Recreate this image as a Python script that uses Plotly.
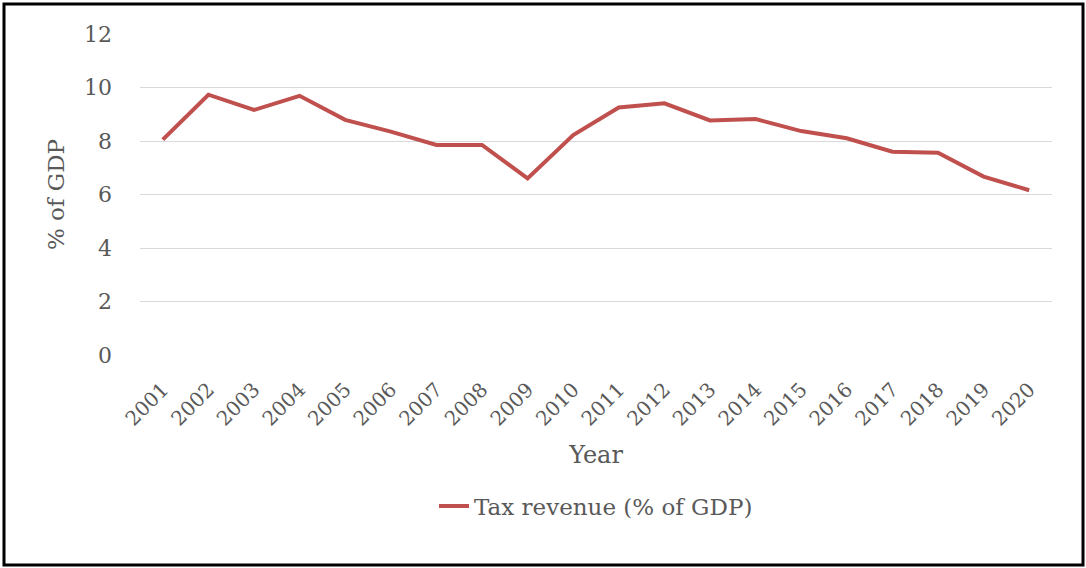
import plotly.graph_objects as go

# Tax revenue as a share of GDP, 2001-2020
years = [str(y) for y in range(2001, 2021)]
tax_revenue = [8.05, 9.73, 9.16, 9.69, 8.79, 8.35, 7.85, 7.85, 6.6, 8.22,
               9.25, 9.41, 8.77, 8.82, 8.37, 8.1, 7.6, 7.56, 6.67, 6.16]
y_ticks = [0, 2, 4, 6, 8, 10, 12]

FONT = "DejaVu Serif"
GREY = "#595959"

fig = go.Figure()
fig.add_trace(go.Scatter(
    x=years, y=tax_revenue, mode="lines",
    name="Tax revenue (% of GDP)",
    line=dict(color="#C0504D", width=4),
))

# plot area in pixels: x 140..1052, y 34..355
L, R, T, B = 140, 34, 34, 213
W, H = 1086, 568
pw, ph = W - L - R, H - T - B

def px(x):
    return (x - L) / pw

def py(y):
    return (H - B - y) / ph

fig.update_layout(
    width=W, height=H,
    margin=dict(l=L, r=R, t=T, b=B, autoexpand=False),
    paper_bgcolor="white", plot_bgcolor="white",
    font=dict(family=FONT, color=GREY, size=19),
    showlegend=True,
    legend=dict(orientation="h", x=0.5, xanchor="center",
                y=py(506), yanchor="middle",
                font=dict(size=23, color=GREY)),
    xaxis=dict(
        type="category", range=[-0.5, 19.5],
        tickangle=-45, showgrid=False, showline=False, ticks="",
        ticklabelstandoff=18,
        tickfont=dict(size=20, color=GREY),
        title=dict(text="Year", font=dict(size=24, color=GREY), standoff=16),
        automargin=False,
    ),
    yaxis=dict(
        range=[0, 12], tickvals=y_ticks,
        gridcolor="#D9D9D9", gridwidth=1.2, zeroline=False,
        showline=False, ticks="", ticklabelstandoff=27,
        tickfont=dict(size=22, color=GREY),
        title=dict(text="% of GDP", font=dict(size=23, color=GREY), standoff=12),
        automargin=False,
    ),
    shapes=[
        dict(type="rect", xref="paper", yref="paper",
             x0=px(4), x1=px(1083), y0=py(565), y1=py(4),
             line=dict(color="black", width=3), layer="above"),
    ],
)

fig.write_html("out.html")
